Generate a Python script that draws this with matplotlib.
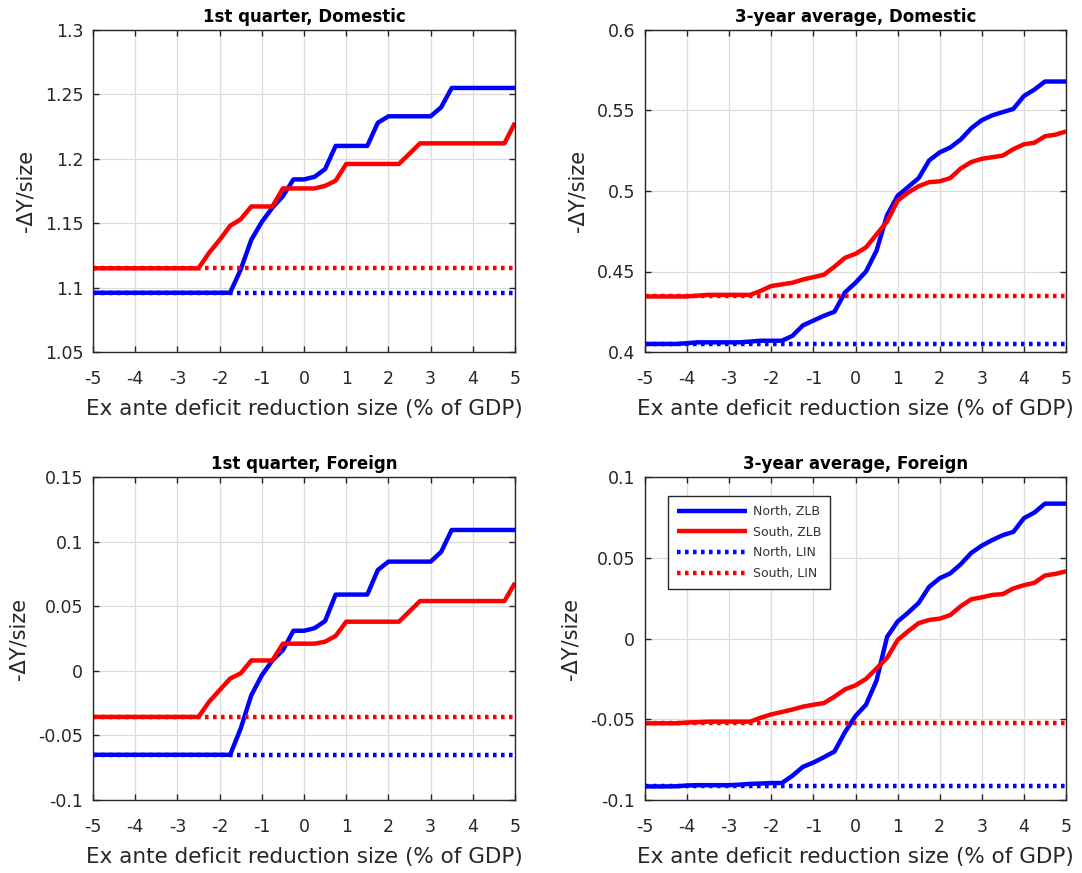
import matplotlib
matplotlib.use("Agg")
import matplotlib.pyplot as plt

plt.rcParams['font.family'] = ['DejaVu Sans']
plt.rcParams['axes.unicode_minus'] = False

# ---------------- data ----------------
x = [-5, -4.75, -4.5, -4.25, -4, -3.75, -3.5, -3.25, -3, -2.75, -2.5, -2.25, -2,
     -1.75, -1.5, -1.25, -1, -0.75, -0.5, -0.25, 0, 0.25, 0.5, 0.75, 1, 1.25,
     1.5, 1.75, 2, 2.25, 2.5, 2.75, 3, 3.25, 3.5, 3.75, 4, 4.25, 4.5, 4.75, 5]

q1_dom_north = [1.096] * 14 + [1.114, 1.137, 1.151, 1.162, 1.171, 1.184, 1.184,
                               1.186, 1.192, 1.210, 1.210, 1.210, 1.210, 1.228,
                               1.233, 1.233, 1.233, 1.233, 1.233, 1.240, 1.255,
                               1.255, 1.255, 1.255, 1.255, 1.255, 1.255]
q1_dom_south = [1.115] * 11 + [1.127, 1.137, 1.148, 1.153, 1.163, 1.163, 1.163,
                               1.177, 1.177, 1.177, 1.177, 1.179, 1.183, 1.196,
                               1.196, 1.196, 1.196, 1.196, 1.196, 1.204, 1.212,
                               1.212, 1.212, 1.212, 1.212, 1.212, 1.212, 1.212,
                               1.212, 1.228]
q1_dom_lin_north = 1.096
q1_dom_lin_south = 1.115

y3_dom_north = [0.405, 0.405, 0.405, 0.405, 0.4055, 0.406, 0.406, 0.406, 0.406,
                0.406, 0.4065, 0.407, 0.407, 0.407, 0.410, 0.4165, 0.4195,
                0.4225, 0.425, 0.437, 0.443, 0.450, 0.463, 0.485, 0.497, 0.5025,
                0.508, 0.519, 0.524, 0.527, 0.532, 0.539, 0.544, 0.547, 0.549,
                0.551, 0.559, 0.563, 0.568, 0.568, 0.568]
y3_dom_south = [0.4345, 0.4345, 0.4345, 0.4345, 0.4345, 0.435, 0.4355, 0.4355,
                0.4355, 0.4355, 0.4355, 0.438, 0.441, 0.442, 0.443, 0.445,
                0.4465, 0.448, 0.453, 0.4585, 0.461, 0.465, 0.473, 0.481, 0.494,
                0.499, 0.503, 0.5055, 0.506, 0.508, 0.514, 0.518, 0.520, 0.521,
                0.522, 0.526, 0.529, 0.530, 0.534, 0.535, 0.537]
y3_dom_lin_north = 0.405
y3_dom_lin_south = 0.4345

q1_for_north = [-0.065] * 14 + [-0.0447, -0.019, -0.0035, 0.008, 0.016, 0.031,
                                0.031, 0.033, 0.0385, 0.059, 0.059, 0.059, 0.059,
                                0.078, 0.0845, 0.0845, 0.0845, 0.0845, 0.0845,
                                0.092, 0.109, 0.109, 0.109, 0.109, 0.109, 0.109,
                                0.109]
q1_for_south = [-0.0357] * 11 + [-0.024, -0.015, -0.006, -0.002, 0.008, 0.008,
                                 0.008, 0.021, 0.021, 0.021, 0.021, 0.0225, 0.027,
                                 0.038, 0.038, 0.038, 0.038, 0.038, 0.038, 0.046,
                                 0.054, 0.054, 0.054, 0.054, 0.054, 0.054, 0.054,
                                 0.054, 0.054, 0.068]
q1_for_lin_north = -0.065
q1_for_lin_south = -0.0357

y3_for_north = [-0.0916, -0.0916, -0.0916, -0.0915, -0.091, -0.0908, -0.0908,
                -0.0908, -0.0908, -0.0905, -0.090, -0.0898, -0.0895, -0.0895,
                -0.085, -0.0795, -0.0768, -0.0735, -0.070, -0.058, -0.048,
                -0.041, -0.026, 0.001, 0.0105, 0.016, 0.022, 0.032, 0.0373,
                0.0403, 0.046, 0.053, 0.0575, 0.061, 0.064, 0.066, 0.0745,
                0.078, 0.0835, 0.0835, 0.0835]
y3_for_south = [-0.0525, -0.0525, -0.0525, -0.0525, -0.052, -0.0518, -0.0515,
                -0.0515, -0.0515, -0.0515, -0.0515, -0.049, -0.047, -0.0455,
                -0.044, -0.0422, -0.041, -0.040, -0.036, -0.0315, -0.029,
                -0.025, -0.0185, -0.012, -0.001, 0.0045, 0.0095, 0.0115, 0.0123,
                0.0145, 0.020, 0.0243, 0.0255, 0.027, 0.0275, 0.031, 0.033,
                0.0345, 0.039, 0.040, 0.0416]
y3_for_lin_north = -0.0915
y3_for_lin_south = -0.0525

titles = ["1st quarter, Domestic", "3-year average, Domestic",
          "1st quarter, Foreign", "3-year average, Foreign"]
xticks = [-5, -4, -3, -2, -1, 0, 1, 2, 3, 4, 5]
xticklabels = ["-5", "-4", "-3", "-2", "-1", "0", "1", "2", "3", "4", "5"]
yticks_q1_dom = [1.05, 1.1, 1.15, 1.2, 1.25, 1.3]
yticklabels_q1_dom = ["1.05", "1.1", "1.15", "1.2", "1.25", "1.3"]
yticks_y3_dom = [0.4, 0.45, 0.5, 0.55, 0.6]
yticklabels_y3_dom = ["0.4", "0.45", "0.5", "0.55", "0.6"]
yticks_q1_for = [-0.1, -0.05, 0, 0.05, 0.1, 0.15]
yticklabels_q1_for = ["-0.1", "-0.05", "0", "0.05", "0.1", "0.15"]
yticks_y3_for = [-0.1, -0.05, 0, 0.05, 0.1]
yticklabels_y3_for = ["-0.1", "-0.05", "0", "0.05", "0.1"]
legend_labels = ["North, ZLB", "South, ZLB", "North, LIN", "South, LIN"]

xlabel = "Ex ante deficit reduction size (% of GDP)"
ylabel = "-\u0394Y/size"

# ---------------- figure ----------------
W, H = 1082, 873
fig = plt.figure(figsize=(W / 100, H / 100), dpi=100)

def rect(l, t, r, b):
    return [l / W, 1 - b / H, (r - l) / W, (b - t) / H]

positions = [rect(93, 30, 515, 352), rect(645, 30, 1066, 352),
             rect(93, 477, 515, 800), rect(645, 477, 1066, 800)]

panels = [
    (q1_dom_north, q1_dom_south, q1_dom_lin_north, q1_dom_lin_south,
     yticks_q1_dom, yticklabels_q1_dom),
    (y3_dom_north, y3_dom_south, y3_dom_lin_north, y3_dom_lin_south,
     yticks_y3_dom, yticklabels_y3_dom),
    (q1_for_north, q1_for_south, q1_for_lin_north, q1_for_lin_south,
     yticks_q1_for, yticklabels_q1_for),
    (y3_for_north, y3_for_south, y3_for_lin_north, y3_for_lin_south,
     yticks_y3_for, yticklabels_y3_for),
]

txt = '#262626'
BLUE = (0, 0, 1)
RED = (1, 0, 0)
LW = 3.2
dot = (0, (0.8, 1.0))

for i, (pos, pdata, title) in enumerate(zip(positions, panels, titles)):
    north, south, lin_n, lin_s, yt, ytl = pdata
    ax = fig.add_axes(pos)
    h1, = ax.plot(x, north, color=BLUE, lw=LW, solid_capstyle='butt')
    h2, = ax.plot(x, south, color=RED, lw=LW, solid_capstyle='butt')
    h3, = ax.plot(x, [lin_n] * len(x), color=BLUE, lw=LW, linestyle=dot)
    h4, = ax.plot(x, [lin_s] * len(x), color=RED, lw=LW, linestyle=dot)
    ax.set_xlim(-5, 5)
    ax.set_ylim(yt[0], yt[-1])
    ax.set_xticks(xticks)
    ax.set_xticklabels(xticklabels)
    ax.set_yticks(yt)
    ax.set_yticklabels(ytl)
    ax.grid(True, color='#dcdcdc', lw=0.9)
    ax.set_axisbelow(True)
    ax.tick_params(direction='in', length=4, width=1, colors=txt,
                   labelsize=12.5, top=True, right=True)
    ax.tick_params(axis='x', pad=13)
    ax.tick_params(axis='y', pad=7)
    for s in ax.spines.values():
        s.set_color('#262626')
        s.set_linewidth(1.0)
    ax.set_title(title, fontsize=12, fontweight='bold', color='black', pad=6)
    ax.set_xlabel(xlabel, fontsize=15.5, color=txt, labelpad=8)
    ax.set_ylabel(ylabel, fontsize=15, color=txt, labelpad=7)
    if i == 3:
        leg = ax.legend([h1, h2, h3, h4], legend_labels, loc='upper left',
                        bbox_to_anchor=(0.04, 0.96), fontsize=9,
                        handlelength=5.6, handletextpad=0.5, labelspacing=0.62,
                        borderpad=0.7, fancybox=False, framealpha=1,
                        edgecolor='#262626')
        leg.get_frame().set_linewidth(1.0)
        for t in leg.get_texts():
            t.set_color('#333333')

fig.savefig("out.png", dpi=100)
